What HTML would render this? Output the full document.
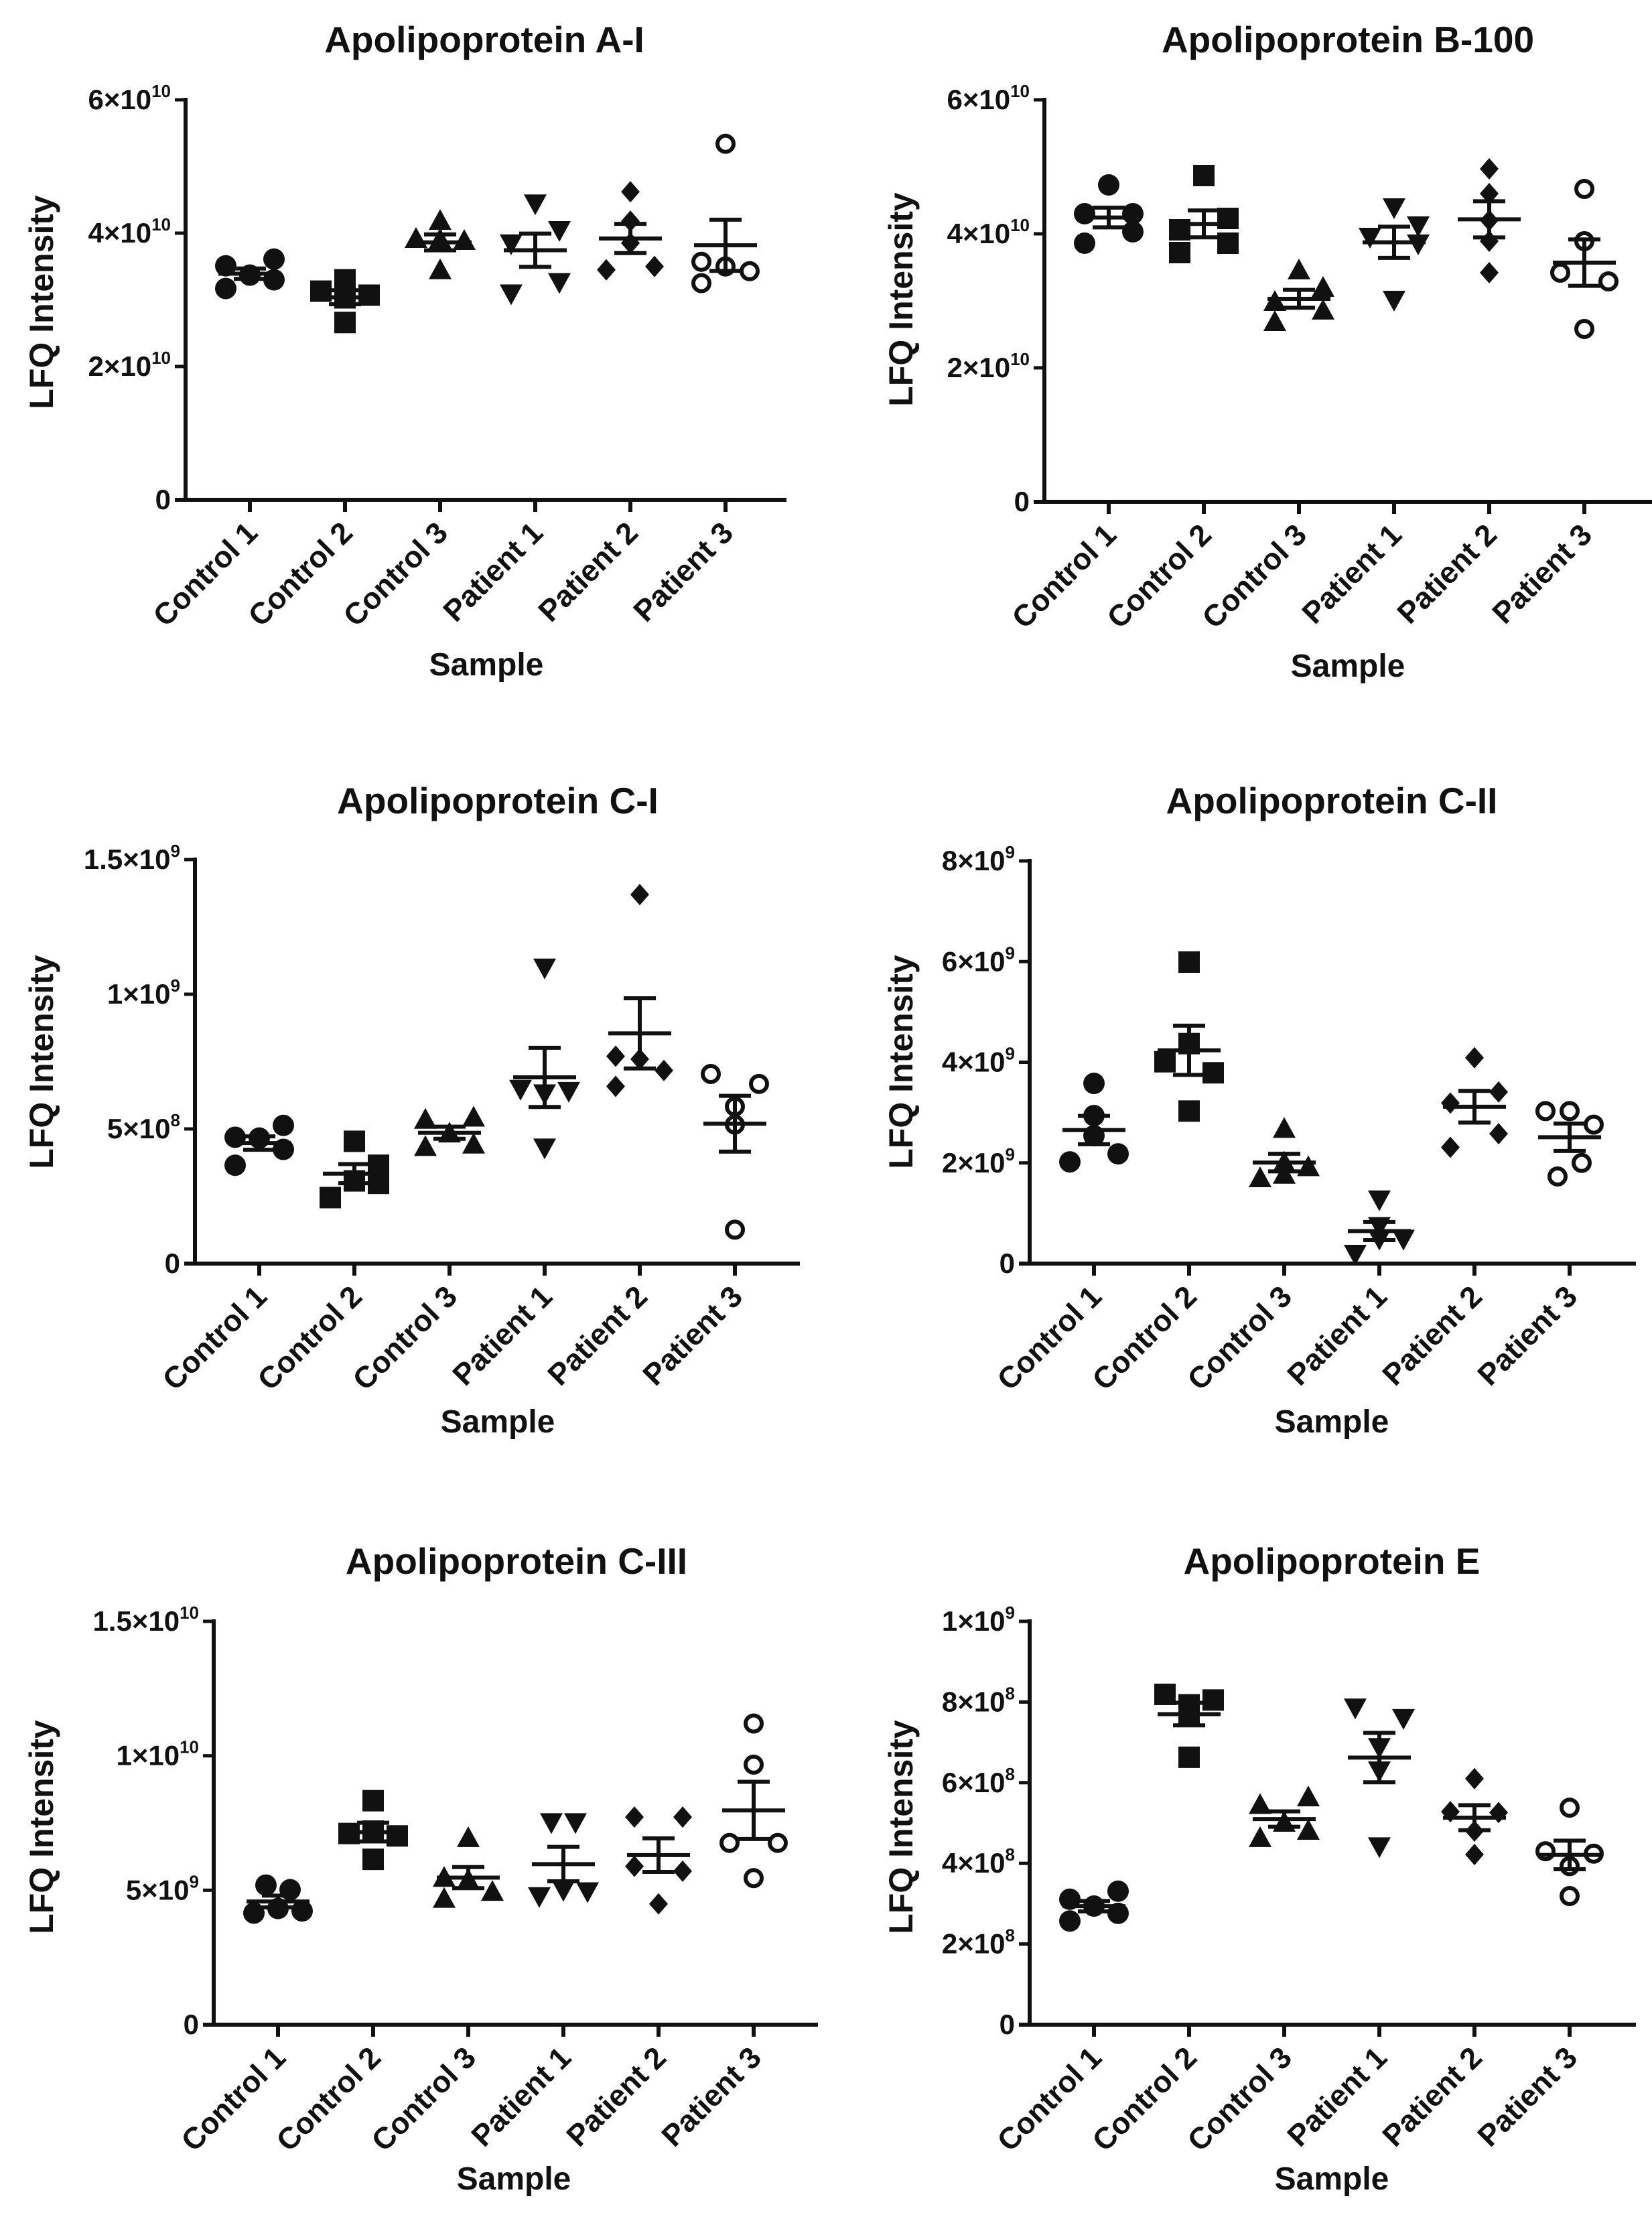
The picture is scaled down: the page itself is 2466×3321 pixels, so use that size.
<!DOCTYPE html>
<html><head><meta charset="utf-8">
<style>
html,body{margin:0;padding:0;background:#fff;}
svg{display:block;}
text{font-family:"Liberation Sans",Arial,sans-serif;font-weight:bold;fill:#111;}
</style></head>
<body>
<svg id="fig" width="2466" height="3321" viewBox="0 0 2466 3321" xmlns="http://www.w3.org/2000/svg"></svg>
<script>
// ---- data (values in panel units) ----
const categories = ["Control 1","Control 2","Control 3","Patient 1","Patient 2","Patient 3"];
const panelTitles = ["Apolipoprotein A-I","Apolipoprotein B-100","Apolipoprotein C-I","Apolipoprotein C-II","Apolipoprotein C-III","Apolipoprotein E"];
// A-I, units 1e10
const apoAIValues = [[3.51,3.17,3.37,3.61,3.30],[3.13,3.30,2.66,3.07,3.03],[3.91,4.18,3.44,3.88,3.90],[4.45,3.85,4.05,3.10,3.27],[4.62,4.18,3.45,3.50,3.85],[5.34,3.57,3.25,3.50,3.43]];
// B-100, units 1e10
const apoBValues = [[3.86,4.73,4.30,4.30,4.03],[4.87,4.06,3.72,4.23,3.86],[3.45,2.68,3.19,2.85,2.98],[4.40,3.96,4.13,3.86,3.02],[4.97,4.60,4.20,3.89,3.42],[4.67,3.89,3.42,3.29,2.58]];
// C-I, units 1e8
const apoCIValues = [[4.69,3.65,4.66,5.13,4.24],[2.45,4.54,3.07,3.65,2.98],[5.33,4.32,4.82,5.41,4.41],[11.0,6.50,6.33,6.42,4.32],[13.7,7.70,7.59,7.17,6.58],[7.04,6.67,5.83,5.16,1.26]];
// C-II, units 1e9
const apoCIIValues = [[3.58,2.02,2.18,2.94,2.54],[5.99,4.01,4.37,3.79,3.03],[2.67,1.69,2.00,1.91,1.76],[1.28,0.20,0.75,0.50,0.50],[4.09,3.19,3.41,2.58,2.31],[3.03,3.03,2.76,2.00,1.73]];
// C-III, units 1e9
const apoCIIIValues = [[4.15,4.32,4.23,5.19,5.02],[8.33,7.11,7.02,7.20,6.15],[6.93,5.45,4.93,4.67,5.37],[7.54,7.54,4.79,5.02,4.97],[7.72,7.72,5.89,5.71,4.49],[11.2,9.67,6.76,6.76,5.45]];
// E, units 1e8
const apoEValues = [[3.11,2.57,2.94,3.31,2.76],[8.19,7.93,8.05,7.70,6.63],[5.44,5.63,5.00,4.62,4.80],[7.87,7.61,6.89,6.31,4.43],[6.10,5.28,5.26,4.80,4.22],[5.38,4.30,4.24,3.93,3.19]];
// y ticks (panel units) and labels [mantissa, exponent]
const apoAITicks = [0,2,4,6];
const apoAITickLabels = [["0",""],["2×10","10"],["4×10","10"],["6×10","10"]];
const apoBTicks = [0,2,4,6];
const apoBTickLabels = [["0",""],["2×10","10"],["4×10","10"],["6×10","10"]];
const apoCITicks = [0,5,10,15];
const apoCITickLabels = [["0",""],["5×10","8"],["1×10","9"],["1.5×10","9"]];
const apoCIITicks = [0,2,4,6,8];
const apoCIITickLabels = [["0",""],["2×10","9"],["4×10","9"],["6×10","9"],["8×10","9"]];
const apoCIIITicks = [0,5,10,15];
const apoCIIITickLabels = [["0",""],["5×10","9"],["1×10","10"],["1.5×10","10"]];
const apoETicks = [0,2,4,6,8,10];
const apoETickLabels = [["0",""],["2×10","8"],["4×10","8"],["6×10","8"],["8×10","8"],["1×10","9"]];
// horizontal jitter slot of each point (layout)
const jitA = [[-1,-1,0,1,1],[-1,0,0,1,0],[-1,0,0,1,0],[0,-1,1,-1,1],[0,0,-1,1,0],[0,-1,-1,0,1]];
const jitB = [[-1,0,-1,1,1],[0,-1,-1,1,1],[0,-1,1,1,-1],[0,-1,1,1,0],[0,0,0,0,0],[0,0,-1,1,0]];
const jitC1 = [[-1,-1,0,1,1],[-1,0,0,1,1],[-1,-1,0,1,1],[0,-1,0,1,0],[0,-1,0,1,-1],[-1,1,0,0,0]];
const jitC2 = [[0,-1,1,0,0],[0,-1,0,1,0],[0,-1,0,1,0],[0,-1,0,1,0],[0,-1,1,1,-1],[-1,0,1,0.5,-0.5]];
const jitC3 = [[-1,0,1,-0.5,0.5],[0,-1,1,0,0],[0,-1,1,-1,0],[-0.5,0.5,-1,0,1],[-1,1,-1,1,0],[0,0,-1,1,0]];
const jitE = [[-1,-1,0,1,1],[-1,0,1,0,0],[-1,1,0,-1,1],[-1,1,0,0,0],[0,-1,1,0,0],[0,-1,1,0,0]];

const panels = [
 {t:0,vals:apoAIValues,ticks:apoAITicks,labels:apoAITickLabels,jit:jitA,ax:277,top:149,zero:746,end:1174,tx:723,ty:78,sx:726,sy:1008,yx:62,yy:451},
 {t:1,vals:apoBValues,ticks:apoBTicks,labels:apoBTickLabels,jit:jitB,ax:1559,top:149,zero:749,end:2466,tx:2012,ty:78,sx:2012,sy:1010,yx:1345,yy:447},
 {t:2,vals:apoCIValues,ticks:apoCITicks,labels:apoCITickLabels,jit:jitC1,ax:291,top:1283,zero:1886,end:1194,tx:743,ty:1214,sx:743,sy:2138,yx:62,yy:1585},
 {t:3,vals:apoCIIValues,ticks:apoCIITicks,labels:apoCIITickLabels,jit:jitC2,ax:1537,top:1285,zero:1886,end:2442,tx:1988,ty:1214,sx:1988,sy:2138,yx:1345,yy:1585},
 {t:4,vals:apoCIIIValues,ticks:apoCIIITicks,labels:apoCIIITickLabels,jit:jitC3,ax:319,top:2420,zero:3022,end:1221,tx:771,ty:2349,sx:767,sy:3268,yx:62,yy:2727},
 {t:5,vals:apoEValues,ticks:apoETicks,labels:apoETickLabels,jit:jitE,ax:1537,top:2420,zero:3022,end:2442,tx:1988,ty:2349,sx:1988,sy:3268,yx:1345,yy:2727}
];

const NS="http://www.w3.org/2000/svg";
const svg=document.getElementById('fig');
function mk(tag,attrs,parent){const e=document.createElementNS(NS,tag);for(const k in attrs)e.setAttribute(k,attrs[k]);(parent||svg).appendChild(e);return e;}

panels.forEach((p,pi)=>{
  const g=mk('g',{});
  
  
  const tmax=p.ticks[p.ticks.length-1];
  const yS=v=>p.zero-(v/tmax)*(p.zero-p.top);
  const xS=i=>p.ax+96+i*142;
  const tt=mk('text',{x:p.tx,y:p.ty,'text-anchor':'middle','font-size':55},g);
  tt.textContent=panelTitles[p.t];
  
  
  const ya=mk('line',{x1:p.ax,y1:p.top-3,x2:p.ax,y2:p.zero+3,stroke:'#111','stroke-width':6},g);
  
  
  const xa=mk('line',{x1:p.ax-16,y1:p.zero,x2:p.end,y2:p.zero,stroke:'#111','stroke-width':6},g);
  
  
  p.ticks.forEach((tv,ti)=>{
    const y=yS(tv);
    mk('line',{x1:p.ax-16,y1:y,x2:p.ax,y2:y,stroke:'#111','stroke-width':5},g);
    const lab=p.labels[ti];
    const t=mk('text',{x:p.ax-22,y:y+14,'text-anchor':'end','font-size':42},g);
    
    
    const s1=mk('tspan',{},t);s1.textContent=lab[0];
    if(lab[1]){const s2=mk('tspan',{dy:-18,'font-size':26},t);s2.textContent=lab[1];}
  });
  const yt=mk('text',{x:0,y:0,'text-anchor':'middle','font-size':50,transform:`translate(${p.yx+17},${p.yy}) rotate(-90)`},g);
  yt.textContent='LFQ Intensity';
  
  
  const xt=mk('text',{x:p.sx,y:p.sy,'text-anchor':'middle','font-size':48},g);
  xt.textContent='Sample';
  
  
  categories.forEach((c,ci)=>{
    const x=xS(ci);
    mk('line',{x1:x,y1:p.zero,x2:x,y2:p.zero+18,stroke:'#111','stroke-width':6},g);
    const t=mk('text',{x:0,y:0,'text-anchor':'end','font-size':45,transform:`translate(${x+14},${p.zero+52}) rotate(-45)`},g);
    t.textContent=c;
    
    
    const vals=p.vals[ci];
    vals.forEach((v,k)=>{
      const px=x+p.jit[ci][k]*36, py=yS(v);
      let m;
      if(ci===0) m=mk('circle',{cx:px,cy:py,r:16,fill:'#111'},g);
      else if(ci===1) m=mk('rect',{x:px-16,y:py-16,width:32,height:32,fill:'#111'},g);
      else if(ci===2) m=mk('polygon',{points:`${px},${py-18} ${px+17},${py+13} ${px-17},${py+13}`,fill:'#111'},g);
      else if(ci===3) m=mk('polygon',{points:`${px},${py+18} ${px+17},${py-13} ${px-17},${py-13}`,fill:'#111'},g);
      else if(ci===4) m=mk('polygon',{points:`${px},${py-16} ${px+14},${py} ${px},${py+16} ${px-14},${py}`,fill:'#111'},g);
      else m=mk('circle',{cx:px,cy:py,r:12,fill:'none',stroke:'#111','stroke-width':6},g);
      
      
    });
    const n=vals.length, mean=vals.reduce((a,b)=>a+b,0)/n;
    const sd=Math.sqrt(vals.reduce((a,b)=>a+(b-mean)*(b-mean),0)/(n-1));
    const sem=sd/Math.sqrt(n);
    const ml=mk('line',{x1:x-47,y1:yS(mean),x2:x+47,y2:yS(mean),stroke:'#111','stroke-width':6},g);
    
    
    const eb=mk('path',{d:`M${x},${yS(mean+sem)}V${yS(mean-sem)}M${x-24},${yS(mean+sem)}H${x+24}M${x-24},${yS(mean-sem)}H${x+24}`,stroke:'#111','stroke-width':6,fill:'none'},g);
    
    
  });
});
</script>
</body></html>
